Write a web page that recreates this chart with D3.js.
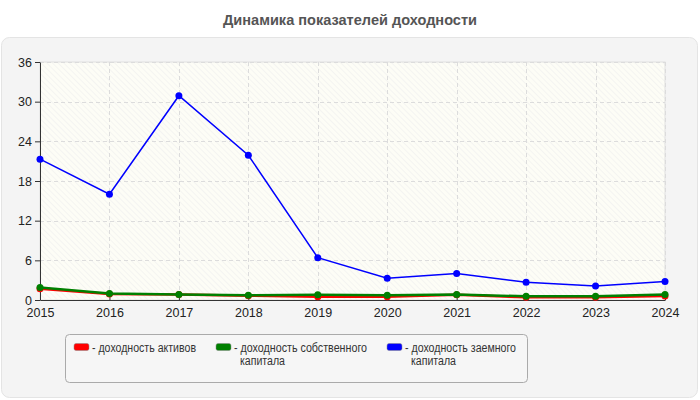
<!DOCTYPE html>
<html><head><meta charset="utf-8">
<script src="https://cdn.jsdelivr.net/npm/d3@7"></script>
<style>
html,body{margin:0;padding:0;background:#fff;}
svg{display:block;font-family:"Liberation Sans",Arial,sans-serif;}
</style></head>
<body>
<svg id="c" width="700" height="400"></svg>
<script>
const years = ["2015","2016","2017","2018","2019","2020","2021","2022","2023","2024"];
const assetsReturn = [1.7, 0.9, 0.85, 0.65, 0.5, 0.5, 0.8, 0.4, 0.4, 0.6];
const equityReturn = [1.9, 1.0, 0.85, 0.7, 0.8, 0.7, 0.85, 0.55, 0.55, 0.85];
const debtReturn = [21.3, 16.0, 30.9, 21.9, 6.4, 3.3, 4.0, 2.7, 2.1, 2.8];
const yTicks = [0, 6, 12, 18, 24, 30, 36];
const seriesNames = ["доходность активов", "доходность собственного капитала", "доходность заемного капитала"];
const seriesColors = ["#ff0000", "#008000", "#0000ff"];
const chartTitle = "Динамика показателей доходности";

const svg = d3.select("#c");
const defs = svg.append("defs");
const pat = defs.append("pattern").attr("id","hatch").attr("patternUnits","userSpaceOnUse")
  .attr("width",4).attr("height",4).attr("patternTransform","rotate(-45)");
pat.append("rect").attr("width",4).attr("height",4).attr("fill","#fdfdf6");
pat.append("line").attr("x1",0).attr("y1",0).attr("x2",0).attr("y2",4).attr("stroke","#ececec").attr("stroke-width",1);

// title
svg.append("text").attr("x",350).attr("y",25).attr("text-anchor","middle")
  .attr("font-size",14).attr("font-weight","bold").attr("fill","#555")
  .attr("textLength",254).attr("lengthAdjust","spacingAndGlyphs").text(chartTitle);

// outer panel
svg.append("rect").attr("x",1.5).attr("y",37.5).attr("width",696).attr("height",360).attr("rx",8)
  .attr("fill","#f4f4f4").attr("stroke","#e4e4e4");

const x = d3.scalePoint().domain(years).range([40,665]);
const y = d3.scaleLinear().domain([0,36]).range([300,62]);

// plot area
svg.append("rect").attr("x",40).attr("y",62).attr("width",625).attr("height",238)
  .attr("fill","url(#hatch)").attr("stroke","#e0e0e0");

// grid
const g = svg.append("g");
g.selectAll(".hg").data(yTicks.filter(d=>d>0)).join("line")
  .attr("x1",40).attr("x2",665).attr("y1",d=>Math.round(y(d))+0.5).attr("y2",d=>Math.round(y(d))+0.5)
  .attr("stroke","#dcdcdc").attr("stroke-dasharray","4,3");
g.selectAll(".vg").data(years.slice(1)).join("line")
  .attr("x1",d=>Math.round(x(d))+0.5).attr("x2",d=>Math.round(x(d))+0.5).attr("y1",62).attr("y2",300)
  .attr("stroke","#dcdcdc").attr("stroke-dasharray","4,3");

// axes
const xAxis = svg.append("g").attr("transform","translate(0,300)")
  .call(d3.axisBottom(x).tickSize(5).tickSizeOuter(0));
const yAxis = svg.append("g").attr("transform","translate(40,0)")
  .call(d3.axisLeft(y).tickValues(yTicks).tickSize(5).tickSizeOuter(0));
[xAxis,yAxis].forEach(a=>{
  a.select(".domain").attr("stroke","#333");
  a.selectAll(".tick line").attr("stroke","#333");
  a.selectAll("text").attr("font-size",12.5).attr("fill","#222").attr("font-family","Liberation Sans, Arial, sans-serif");
});
xAxis.selectAll(".tick line").attr("y1",-5).attr("y2",0);
xAxis.selectAll("text").attr("y",8);
yAxis.selectAll(".tick line").attr("x1",0).attr("x2",-5);
yAxis.selectAll("text").attr("x",-8);

// lines
const allSeries = [assetsReturn, equityReturn, debtReturn];
const line = d3.line().x((d,i)=>x(years[i])).y(d=>y(d));
allSeries.forEach((s,k)=>{
  svg.append("path").datum(s).attr("d",line).attr("fill","none")
    .attr("stroke",seriesColors[k]).attr("stroke-width",k===2?1.5:2.5);
  svg.selectAll(".pt"+k).data(s).join("circle")
    .attr("cx",(d,i)=>x(years[i])).attr("cy",d=>y(d)).attr("r",3.5)
    .attr("fill",seriesColors[k]);
});

// legend
svg.append("rect").attr("x",65.5).attr("y",334.5).attr("width",462).attr("height",48).attr("rx",4)
  .attr("fill","#f6f6f6").attr("stroke","#aaa");
const legX = [74, 216, 387];
const legLines = [["доходность активов"],["доходность собственного","капитала"],["доходность заемного","капитала"]];
const legLen1 = [104, 133, 111];
seriesNames.forEach((n,k)=>{
  svg.append("rect").attr("x",legX[k]).attr("y",343.5).attr("width",15).attr("height",7).attr("rx",2)
    .attr("fill",seriesColors[k]).attr("stroke","#888").attr("stroke-width",0.5);
  const t = svg.append("text").attr("x",legX[k]+18).attr("y",352).attr("font-size",12).attr("fill","#333");
  t.append("tspan").attr("textLength",legLen1[k]).attr("lengthAdjust","spacingAndGlyphs").text("- " + legLines[k][0]);
  if (legLines[k][1]) t.append("tspan").attr("x",legX[k]+24).attr("dy",13)
    .attr("textLength",45).attr("lengthAdjust","spacingAndGlyphs").text(legLines[k][1]);
});
</script>
</body></html>
